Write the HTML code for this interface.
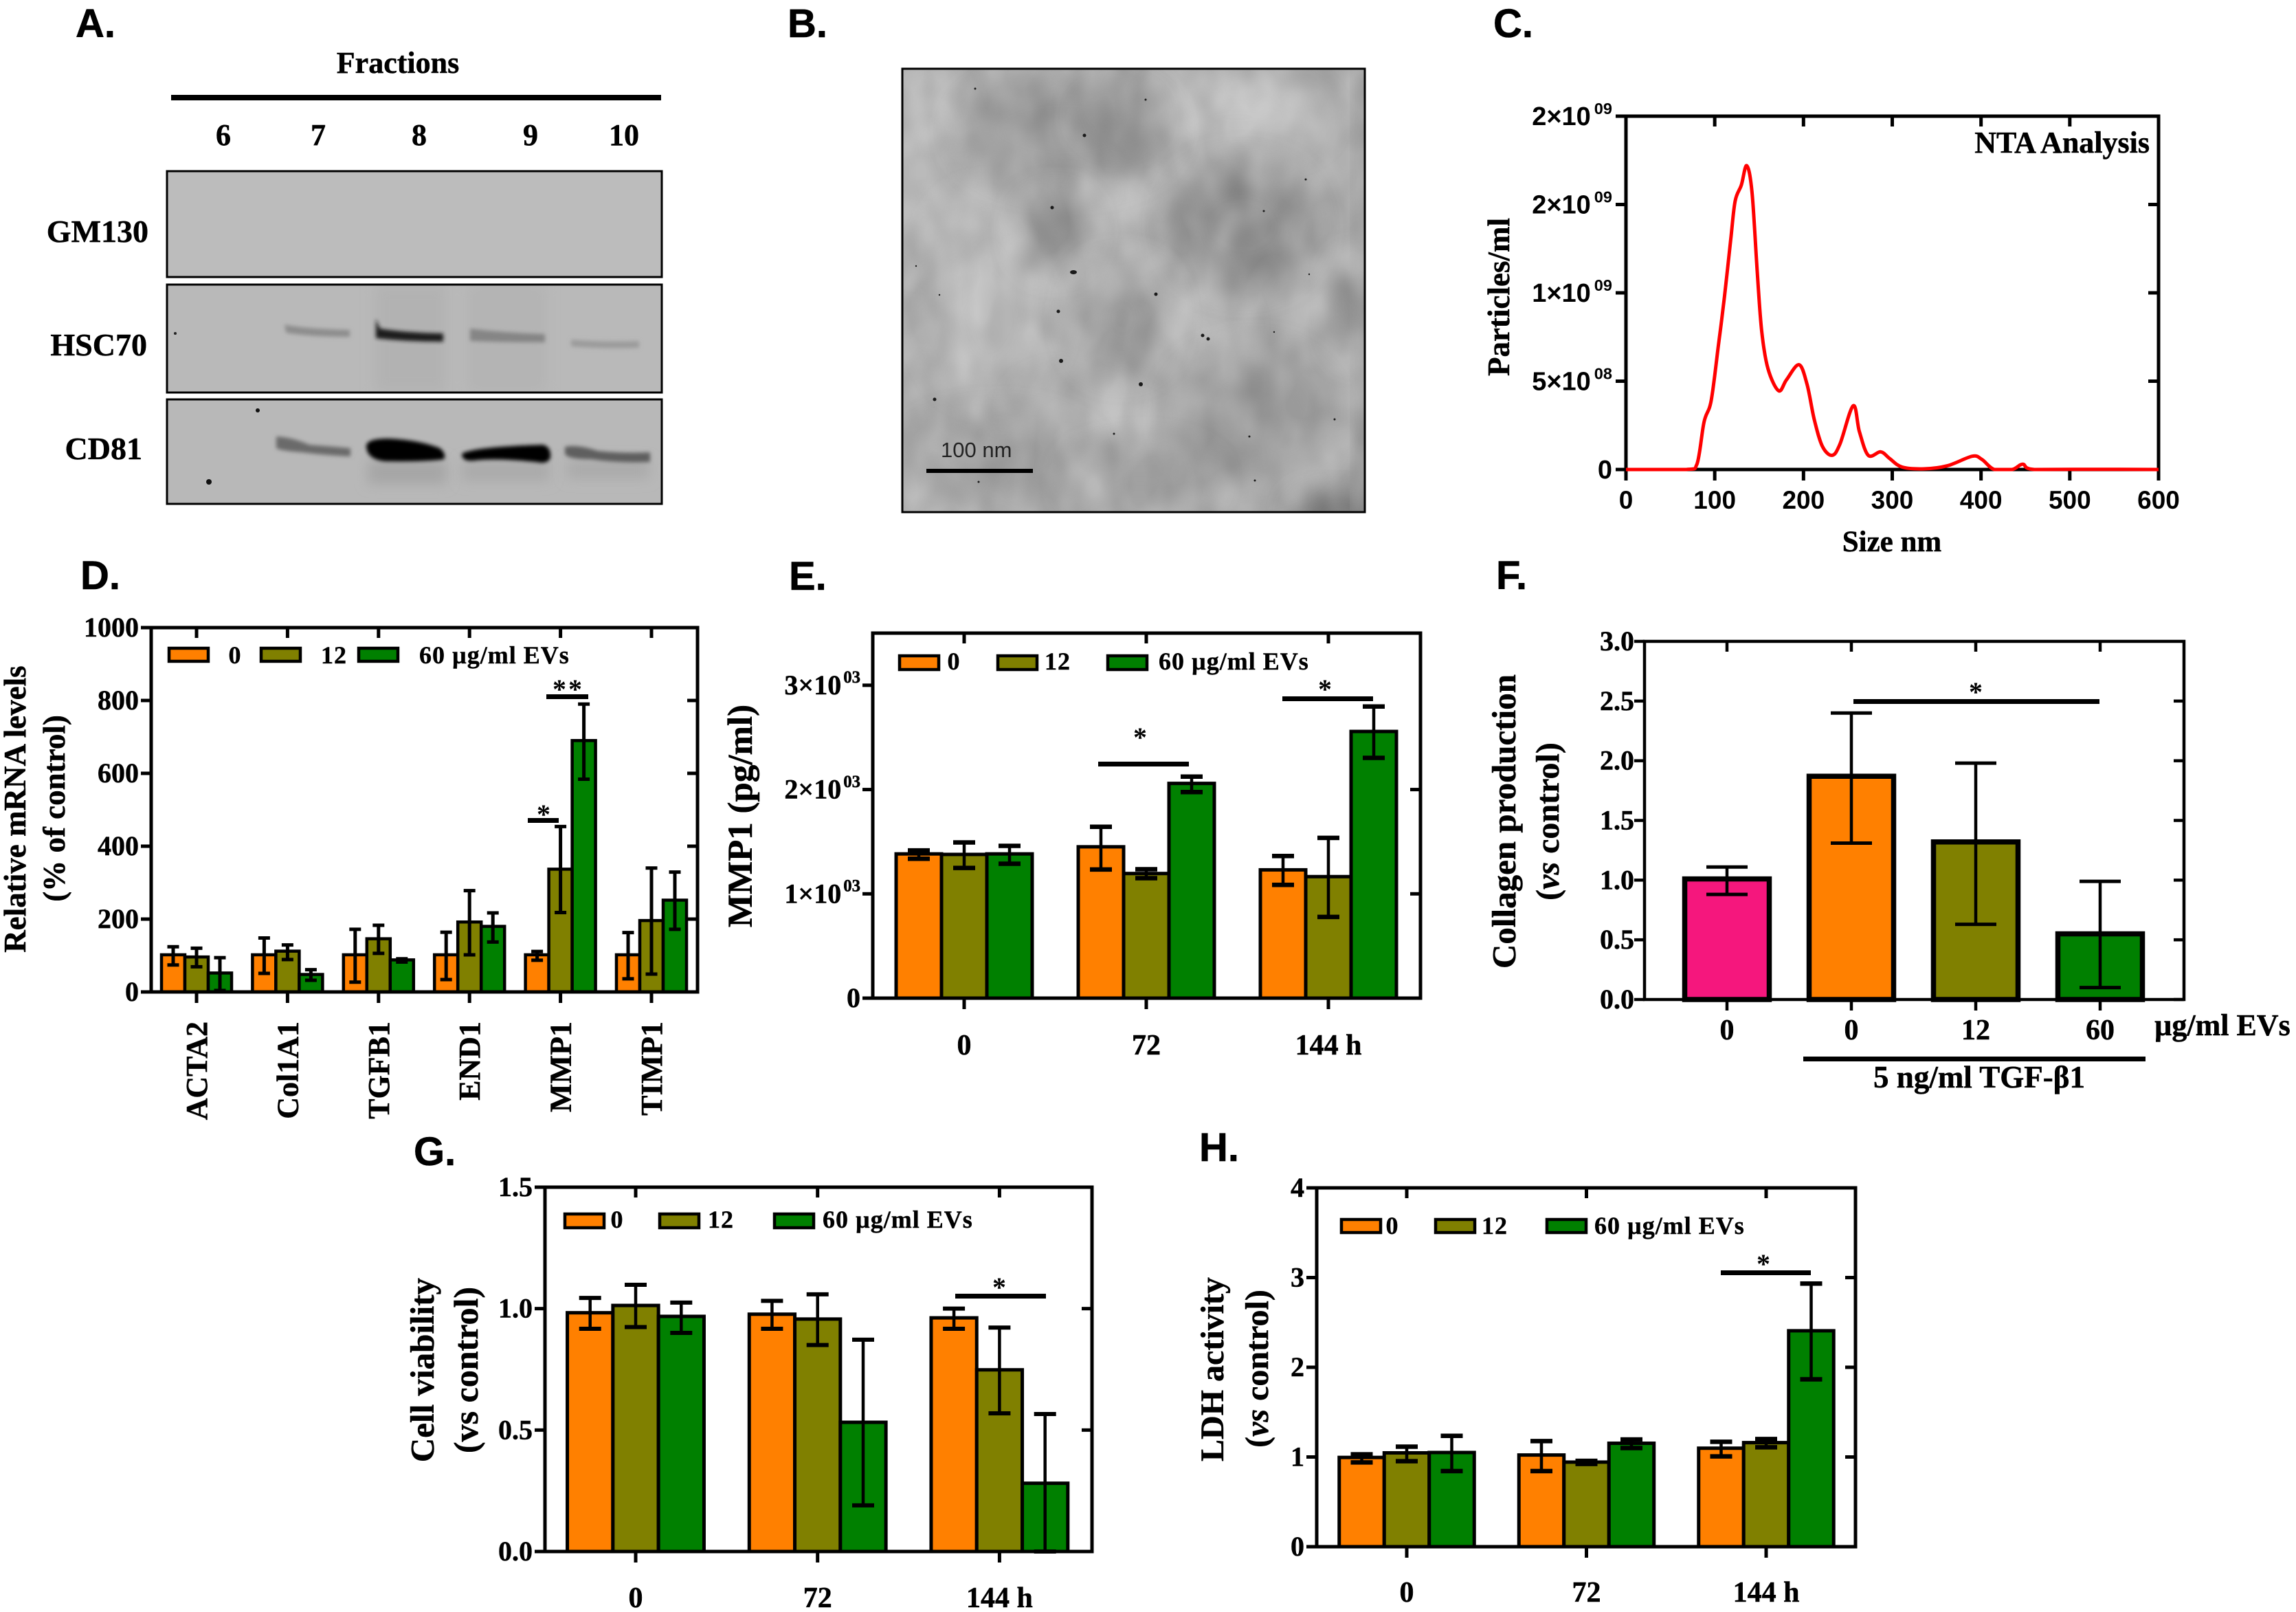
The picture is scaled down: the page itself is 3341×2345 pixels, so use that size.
<!DOCTYPE html>
<html lang="en">
<head>
<meta charset="utf-8">
<title>Extracellular vesicle characterisation figure</title>
<style>
html,body{margin:0;padding:0;background:#fff;}
svg{display:block;}
text{fill:#000;}
.ser{font-family:"Liberation Serif","Noto Serif CJK SC",serif;font-weight:700;stroke:#000;stroke-width:.5px;}
.san{font-family:"Liberation Sans","Noto Sans CJK SC",sans-serif;font-weight:700;}
.pl{font-family:"Liberation Sans",sans-serif;font-weight:700;font-size:58px;stroke:#000;stroke-width:.6px;}
.leg{font-family:"Liberation Serif",serif;font-weight:700;font-size:36px;letter-spacing:1px;stroke:#000;stroke-width:.4px;}
.ttl{font-family:"Liberation Serif",serif;font-weight:700;font-size:49px;text-anchor:middle;stroke:#000;stroke-width:.5px;}
.star{font-family:"Liberation Serif",serif;font-weight:700;font-size:40px;text-anchor:middle;}
</style>
</head>
<body>
<svg id="fig" xmlns="http://www.w3.org/2000/svg" width="3341" height="2345" viewBox="0 0 3341 2345">
<defs>
<filter id="b2" x="-30%" y="-80%" width="160%" height="260%"><feGaussianBlur stdDeviation="3"/></filter>
<filter id="b6" x="-30%" y="-150%" width="160%" height="400%"><feGaussianBlur stdDeviation="9"/></filter>
<filter id="b20" x="-60%" y="-60%" width="220%" height="220%"><feGaussianBlur stdDeviation="22"/></filter>
<filter id="mottleLight" x="0" y="0" width="100%" height="100%"><feTurbulence type="fractalNoise" baseFrequency="0.016 0.011" numOctaves="2" seed="4"/><feColorMatrix values="0 0 0 0 1  0 0 0 0 1  0 0 0 0 1  0.5 0 0 0 -0.17"/></filter>
<filter id="mottleDark" x="0" y="0" width="100%" height="100%"><feTurbulence type="fractalNoise" baseFrequency="0.022 0.015" numOctaves="2" seed="11"/><feColorMatrix values="0 0 0 0 0  0 0 0 0 0  0 0 0 0 0  0.18 0 0 0 -0.06"/></filter>
<clipPath id="clipHsc"><rect x="243" y="414" width="720" height="157"/></clipPath>
<clipPath id="clipCd"><rect x="243" y="581" width="720" height="152"/></clipPath>
<clipPath id="clipTem"><rect x="1313" y="100" width="673" height="645"/></clipPath>
</defs>
<rect x="0" y="0" width="3341" height="2345" fill="#fff"/>

<!-- Panel letters -->
<text class="pl" x="110" y="54">A.</text>
<text class="pl" x="1146" y="54">B.</text>
<text class="pl" x="2173" y="54">C.</text>
<text class="pl" x="117" y="857">D.</text>
<text class="pl" x="1148" y="858">E.</text>
<text class="pl" x="2177" y="857">F.</text>
<text class="pl" x="602" y="1695">G.</text>
<text class="pl" x="1745" y="1689">H.</text>

<!-- Panel A western blot -->
<g>
<text class="ser" x="579" y="106" font-size="44" text-anchor="middle">Fractions</text>
<rect x="249" y="138" width="713" height="8" fill="#000"/>
<g class="ser" font-size="44" text-anchor="middle">
<text x="325" y="211">6</text>
<text x="463" y="211">7</text>
<text x="610" y="211">8</text>
<text x="772" y="211">9</text>
<text x="908" y="211">10</text>
</g>
<g class="ser" font-size="46" text-anchor="end">
<text x="216" y="352">GM130</text>
<text x="214" y="517">HSC70</text>
<text x="207" y="668">CD81</text>
</g>
<rect x="243" y="249" width="720" height="154" fill="#bcbcbc" stroke="#000" stroke-width="3"/>
<g clip-path="url(#clipHsc)">
<rect x="243" y="414" width="720" height="157" fill="#b9b9b9"/>
<rect x="545" y="414" width="105" height="157" fill="#b2b2b2" filter="url(#b6)"/>
<rect x="680" y="414" width="115" height="157" fill="#b4b4b4" filter="url(#b6)"/>
<path d="M414 472Q440 478 509 480L509 490Q450 490 416 484Z" fill="#8d8d8d" filter="url(#b2)"/>
<path d="M547 464L553 478Q590 484 645 485L645 497Q590 497 547 492Z" fill="#1c1c1c" filter="url(#b2)"/>
<path d="M684 478Q730 484 793 486L793 498Q730 498 684 496Z" fill="#858585" filter="url(#b2)"/>
<path d="M831 494Q880 498 930 496L930 506Q880 508 831 504Z" fill="#9b9b9b" filter="url(#b2)"/>
<circle cx="255" cy="485" r="2" fill="#222"/>
</g>
<rect x="243" y="414" width="720" height="157" fill="none" stroke="#000" stroke-width="3"/>
<g clip-path="url(#clipCd)">
<rect x="243" y="581" width="720" height="152" fill="#b8b8b8"/>
<rect x="535" y="670" width="115" height="34" fill="#a6a6a6" filter="url(#b6)"/>
<rect x="672" y="670" width="128" height="30" fill="#aaa" filter="url(#b6)"/>
<rect x="825" y="670" width="120" height="26" fill="#aaa" filter="url(#b6)"/>
<path d="M402 635Q425 636 450 647Q490 650 510 652L510 664Q470 662 440 658Q410 656 402 652Z" fill="#6a6a6a" filter="url(#b2)"/>
<path d="M533 648Q535 638 565 638Q610 640 640 652Q650 660 646 668Q620 672 560 671Q533 668 533 648Z" fill="#000" filter="url(#b2)"/>
<path d="M672 660Q690 650 790 647Q802 650 801 665Q798 676 780 672Q720 666 690 670Q672 672 672 660Z" fill="#000" filter="url(#b2)"/>
<path d="M822 650Q840 646 870 656Q910 660 946 658L946 672Q900 674 860 668Q825 668 822 660Z" fill="#5e5e5e" filter="url(#b2)"/>
<circle cx="375" cy="597" r="3" fill="#111"/>
<circle cx="304" cy="701" r="4" fill="#111"/>
</g>
<rect x="243" y="581" width="720" height="152" fill="none" stroke="#000" stroke-width="3"/>
</g>

<!-- Panel B electron micrograph -->
<g>
<g clip-path="url(#clipTem)">
<rect x="1313" y="100" width="673" height="645" fill="#adadad"/>
<ellipse cx="1345" cy="250" rx="50" ry="130" fill="#bababa" filter="url(#b20)"/>
<ellipse cx="1440" cy="430" rx="90" ry="140" fill="#b8b8b8" filter="url(#b20)"/>
<ellipse cx="1800" cy="170" rx="120" ry="50" fill="#c0c0c0" filter="url(#b20)"/>
<ellipse cx="1620" cy="280" rx="45" ry="55" fill="#c2c2c2" filter="url(#b20)"/>
<ellipse cx="1740" cy="480" rx="60" ry="50" fill="#bcbcbc" filter="url(#b20)"/>
<ellipse cx="1560" cy="600" rx="70" ry="40" fill="#bababa" filter="url(#b20)"/>
<ellipse cx="1549" cy="188" rx="150" ry="78" fill="#989898" filter="url(#b20)"/>
<ellipse cx="1625" cy="170" rx="48" ry="34" fill="#848484" filter="url(#b20)"/>
<ellipse cx="1808" cy="328" rx="100" ry="88" fill="#8c8c8c" filter="url(#b20)"/>
<ellipse cx="1535" cy="338" rx="46" ry="50" fill="#929292" filter="url(#b20)"/>
<ellipse cx="1633" cy="463" rx="66" ry="76" fill="#9c9c9c" filter="url(#b20)"/>
<ellipse cx="1822" cy="607" rx="112" ry="95" fill="#9a9a9a" filter="url(#b20)"/>
<ellipse cx="1975" cy="448" rx="32" ry="70" fill="#8a8a8a" filter="url(#b20)"/>
<ellipse cx="1451" cy="670" rx="130" ry="60" fill="#9e9e9e" filter="url(#b20)"/>
<ellipse cx="1950" cy="745" rx="70" ry="28" fill="#6a6a6a" filter="url(#b20)"/>
<ellipse cx="1660" cy="700" rx="100" ry="45" fill="#a0a0a0" filter="url(#b20)"/>
<rect x="1970" y="100" width="20" height="645" fill="#999" filter="url(#b6)"/>
<rect x="1313" y="100" width="673" height="645" filter="url(#mottleLight)"/>
<rect x="1313" y="100" width="673" height="645" filter="url(#mottleDark)"/>
<g fill="#1a1a1a">
<ellipse cx="1562" cy="396" rx="5" ry="3"/><circle cx="1419" cy="129" r="1.5"/><circle cx="1540" cy="453" r="2.5"/><circle cx="1544" cy="525" r="3"/><circle cx="1660" cy="559" r="3"/><circle cx="1750" cy="488" r="2.5"/><circle cx="1758" cy="493" r="2.5"/><circle cx="1682" cy="428" r="2.5"/><circle cx="1360" cy="581" r="2.5"/><circle cx="1900" cy="261" r="1.5"/><circle cx="1839" cy="307" r="1.5"/><circle cx="1531" cy="302" r="2.5"/><circle cx="1578" cy="197" r="2.5"/><circle cx="1942" cy="610" r="1.5"/><circle cx="1818" cy="635" r="1.5"/><circle cx="1826" cy="699" r="1.5"/><circle cx="1424" cy="701" r="1.5"/><circle cx="1621" cy="631" r="1.5"/><circle cx="1333" cy="387" r="1.2"/><circle cx="1367" cy="429" r="1.2"/><circle cx="1667" cy="145" r="1.5"/><circle cx="1854" cy="483" r="1.2"/><circle cx="1905" cy="399" r="1.2"/>
</g>
</g>
<rect x="1313" y="100" width="673" height="645" fill="none" stroke="#000" stroke-width="3"/>
<rect x="1348" y="682" width="155" height="6" fill="#000"/>
<text x="1369" y="665" font-family="Liberation Sans, sans-serif" font-size="31" style="fill:#222">100 nm</text>
</g>

<!-- Panel C static text -->
<g id="panelC">
<text class="ser" x="3128" y="222" font-size="44" text-anchor="end">NTA Analysis</text>
<text class="ser" x="2753" y="802" font-size="43" text-anchor="middle">Size nm</text>
<text class="ser" x="2196" y="432" font-size="45" text-anchor="middle" transform="rotate(-90 2196 432)">Particles/ml</text>
</g>

<!-- Panel D static text -->
<g id="panelD">
<text class="ttl" x="37" y="1177" style="font-size:45px" transform="rotate(-90 37 1177)">Relative mRNA levels</text>
<text class="ttl" x="94" y="1176" style="font-size:45px" transform="rotate(-90 94 1176)">(% of control)</text>
<g>
<rect x="246" y="943" width="57" height="19" fill="#ff8000" stroke="#000" stroke-width="4.5"/>
<rect x="380" y="943" width="57" height="19" fill="#808000" stroke="#000" stroke-width="4.5"/>
<rect x="522" y="943" width="57" height="19" fill="#008000" stroke="#000" stroke-width="4.5"/>
<text class="leg" x="342" y="965" text-anchor="middle">0</text>
<text class="leg" x="467" y="965">12</text>
<text class="leg" x="610" y="965">60 µg/ml EVs</text>
</g>
</g>

<!-- Panel E static text -->
<g id="panelE">
<text class="ttl" x="1094" y="1187" style="font-size:51px" transform="rotate(-90 1094 1187)">MMP1 (pg/ml)</text>
<g>
<rect x="1309" y="954" width="57" height="20" fill="#ff8000" stroke="#000" stroke-width="4.5"/>
<rect x="1452" y="954" width="57" height="20" fill="#808000" stroke="#000" stroke-width="4.5"/>
<rect x="1612" y="954" width="57" height="20" fill="#008000" stroke="#000" stroke-width="4.5"/>
<text class="leg" x="1388" y="974" text-anchor="middle">0</text>
<text class="leg" x="1520" y="974">12</text>
<text class="leg" x="1686" y="974">60 µg/ml EVs</text>
</g>
</g>

<!-- Panel F static text -->
<g id="panelF">
<text class="ttl" x="2205" y="1195" transform="rotate(-90 2205 1195)">Collagen production</text>
<text class="ttl" x="2268" y="1195" style="font-size:48px" transform="rotate(-90 2268 1195)">(<tspan font-style="italic">vs</tspan> control)</text>
<text class="ser" x="3135" y="1506" font-size="44">µg/ml EVs</text>
<rect x="2624" y="1537" width="498" height="7" fill="#000"/>
<text class="ser" x="2880" y="1582" font-size="45" text-anchor="middle">5 ng/ml TGF-β1</text>
</g>

<!-- Panel G static text -->
<g id="panelG">
<text class="ttl" x="631" y="1993" style="font-size:49px" transform="rotate(-90 631 1993)">Cell viability</text>
<text class="ttl" x="695" y="1993" style="font-size:50px" transform="rotate(-90 695 1993)">(vs control)</text>
<g>
<rect x="822" y="1766" width="57" height="20" fill="#ff8000" stroke="#000" stroke-width="4.5"/>
<rect x="960" y="1766" width="57" height="20" fill="#808000" stroke="#000" stroke-width="4.5"/>
<rect x="1127" y="1766" width="57" height="20" fill="#008000" stroke="#000" stroke-width="4.5"/>
<text class="leg" x="898" y="1786" text-anchor="middle">0</text>
<text class="leg" x="1030" y="1786">12</text>
<text class="leg" x="1197" y="1786">60 µg/ml EVs</text>
</g>
</g>

<!-- Panel H static text -->
<g id="panelH">
<text class="ttl" x="1780" y="1992" style="font-size:48px" transform="rotate(-90 1780 1992)">LDH activity</text>
<text class="ttl" x="1845" y="1991" style="font-size:48px" transform="rotate(-90 1845 1991)">(<tspan font-style="italic">vs</tspan> control)</text>
<g>
<rect x="1952" y="1774" width="57" height="19" fill="#ff8000" stroke="#000" stroke-width="4.5"/>
<rect x="2089" y="1774" width="57" height="19" fill="#808000" stroke="#000" stroke-width="4.5"/>
<rect x="2251" y="1774" width="57" height="19" fill="#008000" stroke="#000" stroke-width="4.5"/>
<text class="leg" x="2026" y="1795" text-anchor="middle">0</text>
<text class="leg" x="2156" y="1795">12</text>
<text class="leg" x="2320" y="1795">60 µg/ml EVs</text>
</g>
</g>
<g id="marks"></g>
<g id="annotations">
<rect x="768" y="1190" width="45" height="7" fill="#000"/>
<text class="star" x="791" y="1198">*</text>
<rect x="795" y="1010" width="61" height="7" fill="#000"/>
<text class="star" x="827" y="1016" letter-spacing="3">**</text>
<rect x="1598" y="1108" width="132" height="7" fill="#000"/>
<text class="star" x="1659" y="1086">*</text>
<rect x="1866" y="1013" width="132" height="7" fill="#000"/>
<text class="star" x="1928" y="1016">*</text>
<rect x="2697" y="1017" width="358" height="7" fill="#000"/>
<text class="star" x="2875" y="1020">*</text>
<rect x="1390" y="1882" width="132" height="7" fill="#000"/>
<text class="star" x="1454" y="1886">*</text>
<rect x="2504" y="1848" width="131" height="7" fill="#000"/>
<text class="star" x="2566" y="1852">*</text>
</g>
</svg>

<script>
// ---------- Panel C data ----------
const cSizes = [0,68,80,88,96,104,111,118,123,130,136,142,148,153,160,172,181,195,204,212,221,232,241,256,263,273,287,297,311,336,362,390,401,415,435,447,460,530,600];
const cParticles = [0,0,0.03e9,0.27e9,0.39e9,0.696e9,0.98e9,1.30e9,1.52e9,1.61e9,1.72e9,1.57e9,1.11e9,0.78e9,0.57e9,0.446e9,0.509e9,0.593e9,0.482e9,0.286e9,0.134e9,0.08e9,0.143e9,0.361e9,0.214e9,0.08e9,0.10e9,0.0625e9,0.014e9,0.004e9,0.021e9,0.075e9,0.057e9,0,0,0.03e9,0,0.001e9,0];
const cXTicks = [0,100,200,300,400,500,600];
const cYTicks = [0,5e8,1e9,1.5e9,2e9];
const cYLabels = ['0','5×10^08','1×10^09','2×10^09','2×10^09'];

// ---------- Panel D data ----------
const dCategories = ['ACTA2','Col1A1','TGFB1','END1','MMP1','TIMP1'];
const dMean0 = [102,102,102,102,102,102];
const dMean12 = [96,112,146,192,337,196];
const dMean60 = [52,48,88,180,690,252];
const dUpper0 = [124,148,172,164,111,163];
const dUpper12 = [120,129,183,278,454,340];
const dUpper60 = [94,61,91,217,790,329];
const dLower0 = [74,51,27,34,87,36];
const dLower12 = [69,89,106,102,218,49];
const dLower60 = [4,32,82,137,584,172];
const dYTicks = [0,200,400,600,800,1000];
const dYLabels = ['0','200','400','600','800','1000'];

// ---------- Panel E data ----------
const eCategories = ['0','72','144 h'];
const eMean0 = [1383,1451,1230];
const eMean12 = [1378,1195,1165];
const eMean60 = [1383,2059,2557];
const eUpper0 = [1416,1643,1363];
const eUpper12 = [1493,1236,1537];
const eUpper60 = [1460,2124,2796];
const eLower0 = [1336,1233,1086];
const eLower12 = [1248,1150,779];
const eLower60 = [1289,1976,2304];
const eYTicks = [0,1000,2000,3000];
const eYLabels = ['0','1×10^03','2×10^03','3×10^03'];

// ---------- Panel F data ----------
const fCategories = ['0','0','12','60'];
const fMean = [1.01,1.87,1.32,0.55];
const fUpper = [1.11,2.40,1.98,0.99];
const fLower = [0.88,1.31,0.63,0.10];
const fYTicks = [0,0.5,1,1.5,2,2.5,3];
const fYLabels = ['0.0','0.5','1.0','1.5','2.0','2.5','3.0'];

// ---------- Panel G data ----------
const gCategories = ['0','72','144 h'];
const gMean0 = [0.983,0.977,0.962];
const gMean12 = [1.013,0.957,0.748];
const gMean60 = [0.968,0.532,0.281];
const gUpper0 = [1.044,1.032,1.0];
const gUpper12 = [1.098,1.059,0.922];
const gUpper60 = [1.025,0.872,0.566];
const gLower0 = [0.917,0.917,0.917];
const gLower12 = [0.924,0.85,0.569];
const gLower60 = [0.90,0.19,0];
const gYTicks = [0,0.5,1,1.5];
const gYLabels = ['0.0','0.5','1.0','1.5'];

// ---------- Panel H data ----------
const hCategories = ['0','72','144 h'];
const hMean0 = [0.995,1.022,1.098];
const hMean12 = [1.046,0.943,1.16];
const hMean60 = [1.05,1.153,2.407];
const hUpper0 = [1.03,1.177,1.17];
const hUpper12 = [1.115,0.957,1.2];
const hUpper60 = [1.236,1.195,2.933];
const hLower0 = [0.94,0.843,1.007];
const hLower12 = [0.953,0.922,1.108];
const hLower60 = [0.843,1.10,1.866];
const hYTicks = [0,1,2,3,4];
const hYLabels = ['0','1','2','3','4'];

const ORANGE = '#ff8000', OLIVE = '#808000', GREEN = '#008000', PINK = '#f5177d';
const NS = 'http://www.w3.org/2000/svg';

function mk(tag, attrs, parent) {
  const node = document.createElementNS(NS, tag);
  for (const k in attrs) node.setAttribute(k, attrs[k]);
  parent.appendChild(node);
  return node;
}
function linear(d0, d1, r0, r1) {
  return function (v) { return r0 + (v - d0) * (r1 - r0) / (d1 - d0); };
}
function line(parent, x1, y1, x2, y2, w, name) {
  const l = mk('line', {x1: x1, y1: y1, x2: x2, y2: y2, stroke: '#000', 'stroke-width': w}, parent);
  
  
  return l;
}
function tickLabel(parent, str, x, y, cfg, anchor, name) {
  const t = mk('text', {x: x, y: y, 'font-size': cfg.size, 'text-anchor': anchor, 'class': cfg.cls}, parent);
  
  
  const parts = String(str).split('^');
  t.appendChild(document.createTextNode(parts[0]));
  if (parts[1]) {
    const sup = mk('tspan', {dy: -cfg.size * 0.42, dx: cfg.supGap || 3, 'font-size': cfg.size * 0.62}, t);
    sup.textContent = parts[1];
  }
  return t;
}
function drawFrame(g, o) {
  const tick = o.tick || 15, w = o.axisW || 5;
  o.yTicks.forEach(function (v, i) {
    const y = o.y(v);
    line(g, o.left - tick, y, o.left, y, w, 'y-tick');
    if (v !== o.yTicks[o.yTicks.length - 1] || !o.topFlush) {
      line(g, o.right - tick, y, o.right, y, w, 'y-tick-right');
    }
    tickLabel(g, o.yLabels[i], o.left - tick - o.labelGap, y + o.yBase, {size: o.ySize, cls: o.cls, supGap: o.supGap}, 'end', 'y-tick-label');
  });
  o.xPos.forEach(function (x) {
    line(g, x, o.top, x, o.top + 15, w, 'top-tick');
    line(g, x, o.bottom, x, o.bottom + 16, w, 'x-tick');
  });
  const frame = mk('rect', {x: o.left, y: o.top, width: o.right - o.left, height: o.bottom - o.top, fill: 'none', stroke: '#000', 'stroke-width': w}, g);
  
  
}
function drawBarChart(o) {
  const g = mk('g', {}, document.getElementById('marks'));
  
  
  const y = linear(0, o.yMax, o.bottom, o.top);
  const x = function (i) { return o.firstX + i * o.stepX; };
  const n = o.means.length;
  const xPos = o.cats.map(function (c, i) { return x(i); });
  o.means.forEach(function (arr, s) {
    arr.forEach(function (v, i) {
      const bx = x(i) + (s - n / 2) * o.barW;
      const fill = o.catColors ? o.catColors[i] : o.colors[s];
      const b = mk('rect', {x: bx, y: y(v), width: o.barW, height: o.bottom - y(v), fill: fill, stroke: '#000', 'stroke-width': o.barStroke}, g);
      
      
    });
  });
  o.means.forEach(function (arr, s) {
    arr.forEach(function (v, i) {
      const cx = x(i) + (s - n / 2 + 0.5) * o.barW;
      const hi = y(o.upper[s][i]), lo = y(o.lower[s][i]);
      line(g, cx, hi, cx, lo, o.errW, 'error-bar');
      line(g, cx - o.capW / 2, hi, cx + o.capW / 2, hi, o.capS, 'error-cap-upper');
      line(g, cx - o.capW / 2, lo, cx + o.capW / 2, lo, o.capS, 'error-cap-lower');
    });
  });
  drawFrame(g, {left: o.left, right: o.right, top: o.top, bottom: o.bottom, y: y, yTicks: o.yTicks, yLabels: o.yLabels, xPos: xPos, ySize: o.ySize || 40, yBase: 13, cls: 'ser', labelGap: o.labelGap === undefined ? 3 : o.labelGap, axisW: o.axisW, topFlush: true});
  o.cats.forEach(function (c, i) {
    if (o.rotateX) {
      const tx = x(i) + 15;
      const t = tickLabel(g, c, tx, o.xBase, {size: 44, cls: 'ser'}, 'end', 'x-tick-label');
      t.setAttribute('transform', 'rotate(-90 ' + tx + ' ' + o.xBase + ')');
    } else {
      tickLabel(g, c, x(i), o.xBase, {size: 42, cls: 'ser'}, 'middle', 'x-tick-label');
    }
  });
}
function drawNta() {
  const g = mk('g', {}, document.getElementById('marks'));
  
  
  const x = linear(0, 600, 2366, 3141);
  const y = linear(0, 2e9, 683, 169);
  let d = '';
  const px = cSizes.map(x), py = cParticles.map(y);
  for (let i = 0; i < px.length; i++) {
    if (i === 0) { d += 'M' + px[0] + ' ' + py[0]; continue; }
    const p0 = Math.max(i - 2, 0), p1 = i - 1, p2 = i, p3 = Math.min(i + 1, px.length - 1);
    const c1x = px[p1] + (px[p2] - px[p0]) / 6;
    let c1y = py[p1] + (py[p2] - py[p0]) / 6;
    const c2x = px[p2] - (px[p3] - px[p1]) / 6;
    let c2y = py[p2] - (py[p3] - py[p1]) / 6;
    c1y = Math.min(c1y, 683); c2y = Math.min(c2y, 683);
    d += 'C' + c1x.toFixed(1) + ' ' + c1y.toFixed(1) + ' ' + c2x.toFixed(1) + ' ' + c2y.toFixed(1) + ' ' + px[p2].toFixed(1) + ' ' + py[p2].toFixed(1);
  }
  drawFrame(g, {left: 2366, right: 3141, top: 169, bottom: 683, y: y, yTicks: cYTicks, yLabels: cYLabels, xPos: cXTicks.map(x), ySize: 38, yBase: 13, cls: 'san', labelGap: 5, supGap: 5, axisW: 5, topFlush: true});
  const curve = mk('path', {d: d, fill: 'none', stroke: '#ff0000', 'stroke-width': 5, 'stroke-linejoin': 'round'}, g);
  
  
  cXTicks.forEach(function (v) {
    tickLabel(g, v, x(v), 740, {size: 37, cls: 'san'}, 'middle', 'x-tick-label');
  });
}
drawNta();
drawBarChart({name: 'mrna-marks', cats: dCategories, means: [dMean0, dMean12, dMean60], upper: [dUpper0, dUpper12, dUpper60], lower: [dLower0, dLower12, dLower60], colors: [ORANGE, OLIVE, GREEN], yTicks: dYTicks, yLabels: dYLabels, yMax: 1000, left: 220, right: 1015, top: 913, bottom: 1443, firstX: 286, stepX: 132.4, barW: 34, barStroke: 4.5, errW: 5, capW: 17, capS: 5, xBase: 1486, rotateX: true, axisW: 5});
drawBarChart({name: 'mmp1-marks', cats: eCategories, means: [eMean0, eMean12, eMean60], upper: [eUpper0, eUpper12, eUpper60], lower: [eLower0, eLower12, eLower60], colors: [ORANGE, OLIVE, GREEN], yTicks: eYTicks, yLabels: eYLabels, yMax: 3500, left: 1270, right: 2067, top: 921, bottom: 1452, firstX: 1403, stepX: 265, barW: 66, barStroke: 5, errW: 4.5, capW: 32, capS: 6.5, xBase: 1534, axisW: 5});
drawBarChart({name: 'collagen-marks', cats: fCategories, means: [fMean], upper: [fUpper], lower: [fLower], catColors: [PINK, ORANGE, OLIVE, GREEN], yTicks: fYTicks, yLabels: fYLabels, yMax: 3, left: 2393, right: 3178, top: 933, bottom: 1454, firstX: 2513, stepX: 181, barW: 123, barStroke: 7.5, errW: 4.5, capW: 60, capS: 5, xBase: 1512, labelGap: 0, axisW: 4.5});
drawBarChart({name: 'viability-marks', cats: gCategories, means: [gMean0, gMean12, gMean60], upper: [gUpper0, gUpper12, gUpper60], lower: [gLower0, gLower12, gLower60], colors: [ORANGE, OLIVE, GREEN], yTicks: gYTicks, yLabels: gYLabels, yMax: 1.5, left: 793, right: 1589, top: 1727, bottom: 2257, firstX: 925, stepX: 264.7, barW: 66.3, barStroke: 5, errW: 4.5, capW: 32, capS: 6, xBase: 2338, axisW: 5});
drawBarChart({name: 'ldh-marks', cats: hCategories, means: [hMean0, hMean12, hMean60], upper: [hUpper0, hUpper12, hUpper60], lower: [hLower0, hLower12, hLower60], colors: [ORANGE, OLIVE, GREEN], yTicks: hYTicks, yLabels: hYLabels, yMax: 4, left: 1916, right: 2700, top: 1728, bottom: 2250, firstX: 2047, stepX: 261.5, barW: 65.5, barStroke: 5, errW: 4.5, capW: 32, capS: 6.5, xBase: 2330, axisW: 5});
</script>
</body>
</html>
